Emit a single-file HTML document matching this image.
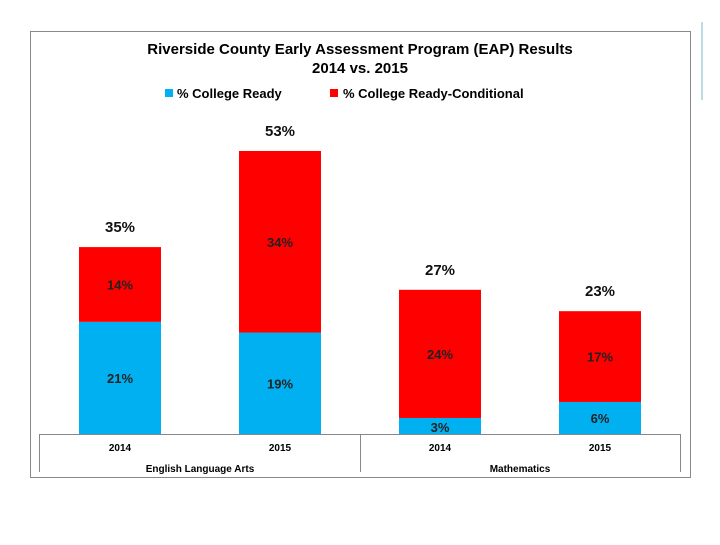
<!DOCTYPE html>
<html><head><meta charset="utf-8"><style>
body{margin:0;width:720px;height:540px;background:#fff;overflow:hidden;font-family:"Liberation Sans",Arial,sans-serif}
</style></head><body>
<svg width="720" height="540" id="svg">
<line x1="702" y1="22" x2="702" y2="100" stroke="#7fb8c8" stroke-width="1"/>
<rect x="30.5" y="31.5" width="660" height="446" fill="none" stroke="#888"/>
<text x="360" y="54" text-anchor="middle" font-size="15" font-weight="bold">Riverside County Early Assessment Program (EAP) Results</text>
<text x="360" y="73" text-anchor="middle" font-size="15" font-weight="bold">2014 vs. 2015</text>
<g>
<rect x="165" y="89" width="8" height="8" fill="#00b0f0"/>
<text x="177" y="98" font-size="13" font-weight="bold">% College Ready</text>
<rect x="330" y="89" width="8" height="8" fill="#ff0000"/>
<text x="343" y="98" font-size="13" font-weight="bold">% College Ready-Conditional</text>
</g>
<g id="bars"></g>
<g stroke="#888" fill="none">
<line x1="39.5" y1="434.5" x2="680.5" y2="434.5"/>
<line x1="39.5" y1="434" x2="39.5" y2="472"/>
<line x1="360.5" y1="434" x2="360.5" y2="472"/>
<line x1="680.5" y1="434" x2="680.5" y2="472"/>
</g>
<text x="200" y="472" text-anchor="middle" font-size="10" font-weight="bold">English Language Arts</text>
<text x="520" y="472" text-anchor="middle" font-size="10" font-weight="bold">Mathematics</text>
</svg>
<script>
const years=["2014","2015","2014","2015"];
const ready=[21,19,3,6];
const conditional=[14,34,24,17];
const totals=[35,53,27,23];
const base=434,pxPer=5.34,x0=79,step=160,bw=82;
const y=v=>base-v*pxPer;
const g=document.getElementById('bars');
const NS='http://www.w3.org/2000/svg';
function mk(t,a){const e=document.createElementNS(NS,t);for(const k in a)e.setAttribute(k,a[k]);return e;}
years.forEach((yr,i)=>{
 const x=x0+i*step,cx=x+bw/2;
 const r=mk('rect',{x:x,y:y(ready[i]),width:bw,height:ready[i]*pxPer,fill:'#00b0f0'});
 
 
 g.appendChild(r);
 const c=mk('rect',{x:x,y:y(ready[i]+conditional[i]),width:bw,height:conditional[i]*pxPer,fill:'#ff0000'});
 
 
 g.appendChild(c);
 const ly=ready[i]<8?y(ready[i])-3+ (ready[i]<5?12:0):y(ready[i]/2)+5;
 const t1=mk('text',{x:cx,y:ready[i]<5?base-2:y(ready[i]/2)+5,'text-anchor':'middle','font-size':13,'font-weight':'bold',fill:'#222'});
 t1.textContent=ready[i]+'%';
 
 
 g.appendChild(t1);
 const t2=mk('text',{x:cx,y:y(ready[i]+conditional[i]/2)+5,'text-anchor':'middle','font-size':13,'font-weight':'bold',fill:'#222'});
 t2.textContent=conditional[i]+'%';
 
 
 g.appendChild(t2);
 const t3=mk('text',{x:cx,y:y(totals[i])-15,'text-anchor':'middle','font-size':15,'font-weight':'bold',fill:'#111'});
 t3.textContent=totals[i]+'%';
 
 
 g.appendChild(t3);
 const t4=mk('text',{x:x0+bw/2+i*step,y:451,'text-anchor':'middle','font-size':10,'font-weight':'bold'});
 t4.textContent=yr;
 
 
 document.getElementById('svg').appendChild(t4);
});
</script>
</body></html>
